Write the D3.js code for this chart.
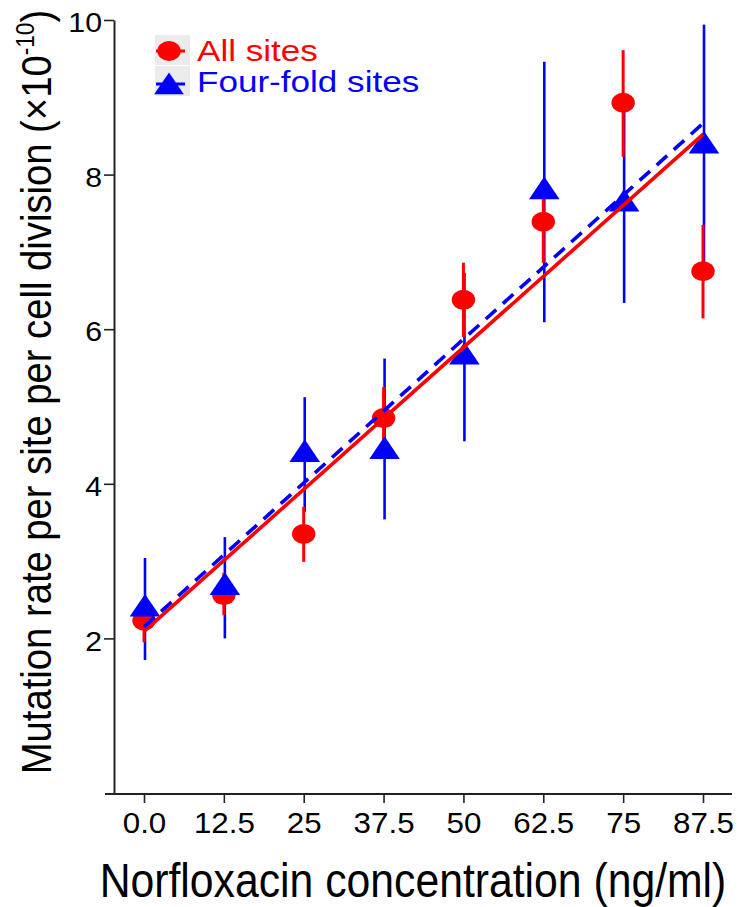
<!DOCTYPE html>
<html>
<head>
<meta charset="utf-8">
<script src="https://cdn.jsdelivr.net/npm/d3@7"></script>
<style>
  html, body { margin: 0; padding: 0; background: #fff; }
  svg { display: block; }
  svg text { font-family: Arial, "Liberation Sans", Helvetica, sans-serif; }
</style>
</head>
<body>
<svg id="chart" width="740" height="907"></svg>
<script>
// ---- data ----
const concentrations = [0, 12.5, 25, 37.5, 50, 62.5, 75, 87.5];
const tickLabels = ["0.0", "12.5", "25", "37.5", "50", "62.5", "75", "87.5"];
const allMean = [2.23, 2.56, 3.35, 4.85, 6.38, 7.39, 8.93, 6.75];
const allLow  = [1.95, 2.30, 2.99, 4.44, 5.90, 6.86, 8.23, 6.14];
const allHigh = [2.50, 2.85, 3.70, 5.25, 6.86, 7.72, 9.61, 7.35];
const fourMean = [2.38, 2.66, 4.38, 4.42, 5.64, 7.78, 7.62, 8.37];
const fourLow  = [1.72, 2.00, 3.64, 3.54, 4.55, 6.09, 6.34, 6.80];
const fourHigh = [3.04, 3.31, 5.12, 5.62, 6.73, 9.46, 8.90, 9.94];
const yTicks = [2, 4, 6, 8, 10];
const seriesNames = ["All sites", "Four-fold sites"];

// ---- layout ----
const SX = 1.17;   // horizontal stretch of the source image
const TSX = 1.08;  // stretch for tick labels
const RED = "#ff0000", BLUE = "#0000ff", AXIS = "#222";
const svg = d3.select("#chart");
const x = d3.scaleLinear().domain([0, 87.5]).range([144, 703]);
const y = d3.scaleLinear().domain([0, 10]).range([793, 20]);

// ---- axes ----
const yAxis = d3.axisLeft(y).tickValues(yTicks).tickSize(10).tickSizeOuter(0).tickFormat(d3.format("d"));
const gy = svg.append("g").attr("transform", "translate(114,0)").call(yAxis).attr("font-family", null);
gy.select(".domain").attr("stroke", AXIS).attr("stroke-width", 2);
gy.selectAll(".tick line").attr("stroke", AXIS).attr("stroke-width", 1.6);
gy.selectAll(".tick text")
  .attr("x", -12 / TSX).attr("dy", "0.42em")
  .attr("transform", `scale(${TSX},1)`)
  .attr("font-size", 28).attr("fill", "#000");

const xAxis = d3.axisBottom(x).tickValues(concentrations).tickSize(9).tickSizeOuter(0)
  .tickFormat((d, i) => tickLabels[i]);
const gx = svg.append("g").attr("transform", "translate(0,794)").call(xAxis).attr("font-family", null);
gx.select(".domain").remove();
gx.selectAll(".tick line").attr("stroke", AXIS).attr("stroke-width", 1.6);
gx.selectAll(".tick text")
  .attr("y", 39).attr("dy", 0)
  .attr("transform", `scale(${TSX},1)`)
  .attr("font-size", 29).attr("fill", "#000");
svg.append("line").attr("x1", 105).attr("x2", 732).attr("y1", 794).attr("y2", 794)
  .attr("stroke", AXIS).attr("stroke-width", 2);

// ---- axis titles ----
svg.append("text")
  .attr("transform", "translate(413,897) scale(0.89,1)")
  .attr("text-anchor", "middle").attr("font-size", 48).attr("fill", "#000")
  .text("Norfloxacin concentration (ng/ml)");

const yl = svg.append("text")
  .attr("transform", "translate(51,392) rotate(-90) scale(0.91,1)")
  .attr("text-anchor", "middle").attr("font-size", 42).attr("fill", "#000");
yl.append("tspan").text("Mutation rate per site per cell division (\u00d710");
yl.append("tspan").attr("font-size", 25).attr("dy", -17).text("-10");
yl.append("tspan").attr("dy", 17).text(")");

// ---- error bars ----
const idx = d3.range(concentrations.length);
svg.append("g").selectAll("line").data(idx).join("line")
  .attr("x1", i => x(concentrations[i]) + 1).attr("x2", i => x(concentrations[i]) + 1)
  .attr("y1", i => y(fourLow[i])).attr("y2", i => y(fourHigh[i]))
  .attr("stroke", BLUE).attr("stroke-width", 2.6);
svg.append("g").selectAll("line").data(idx).join("line")
  .attr("x1", i => x(concentrations[i])).attr("x2", i => x(concentrations[i]))
  .attr("y1", i => y(allLow[i])).attr("y2", i => y(allHigh[i]))
  .attr("stroke", RED).attr("stroke-width", 3);

// ---- markers ----
const CR = 10; // circle radius (vertical)
svg.append("g").selectAll("ellipse").data(idx).join("ellipse")
  .attr("cx", i => x(concentrations[i])).attr("cy", i => y(allMean[i]))
  .attr("rx", CR * SX).attr("ry", CR).attr("fill", RED);

function triPath(cx, cy, s) {
  const xc = s, r = 1.5551 * xc, h = 1.3468 * xc * SX, yc = 0.7776 * xc;
  return `M${cx},${cy - r}L${cx + h},${cy + yc}L${cx - h},${cy + yc}Z`;
}
svg.append("g").selectAll("path").data(idx).join("path")
  .attr("d", i => triPath(x(concentrations[i]) + 1, y(fourMean[i]), 9.7))
  .attr("fill", BLUE);

// ---- regression lines (least squares fit of each series) ----
function fit(xs, ys) {
  const mx = d3.mean(xs), my = d3.mean(ys);
  const b = d3.sum(xs, (v, i) => (v - mx) * (ys[i] - my)) / d3.sum(xs, v => (v - mx) ** 2);
  return [my - b * mx, b];
}
const ends = d3.extent(concentrations);
const line = d3.line().x(d => x(d[0])).y(d => y(d[1]));
const [aA, bA] = fit(concentrations, allMean);
const [aF, bF] = fit(concentrations, fourMean);
svg.append("path").attr("d", line(ends.map(c => [c, aA + bA * c])))
  .attr("stroke", RED).attr("stroke-width", 3.6).attr("fill", "none");
svg.append("path").attr("d", line(ends.map(c => [c, aF + bF * c])))
  .attr("stroke", BLUE).attr("stroke-width", 3.6).attr("fill", "none")
  .attr("stroke-dasharray", "14,9");

// ---- legend ----
const lg = svg.append("g");
lg.append("rect").attr("x", 155).attr("y", 35).attr("width", 35).attr("height", 30).attr("fill", "#ebebeb");
lg.append("rect").attr("x", 155).attr("y", 66).attr("width", 35).attr("height", 30).attr("fill", "#ebebeb");
lg.append("line").attr("x1", 156).attr("x2", 185).attr("y1", 51).attr("y2", 51).attr("stroke", RED).attr("stroke-width", 3);
lg.append("ellipse").attr("cx", 169).attr("cy", 51).attr("rx", CR * SX).attr("ry", CR).attr("fill", RED);
lg.append("line").attr("x1", 156).attr("x2", 185).attr("y1", 84).attr("y2", 84).attr("stroke", BLUE).attr("stroke-width", 3);
lg.append("path").attr("d", triPath(169, 87, 9.4)).attr("fill", BLUE);
lg.append("text").attr("transform", `translate(197,61) scale(${SX},1)`)
  .attr("font-size", 30).attr("fill", RED).text(seriesNames[0]);
lg.append("text").attr("transform", `translate(197,92) scale(${SX},1)`)
  .attr("font-size", 30).attr("fill", BLUE).text(seriesNames[1]);
</script>
</body>
</html>
